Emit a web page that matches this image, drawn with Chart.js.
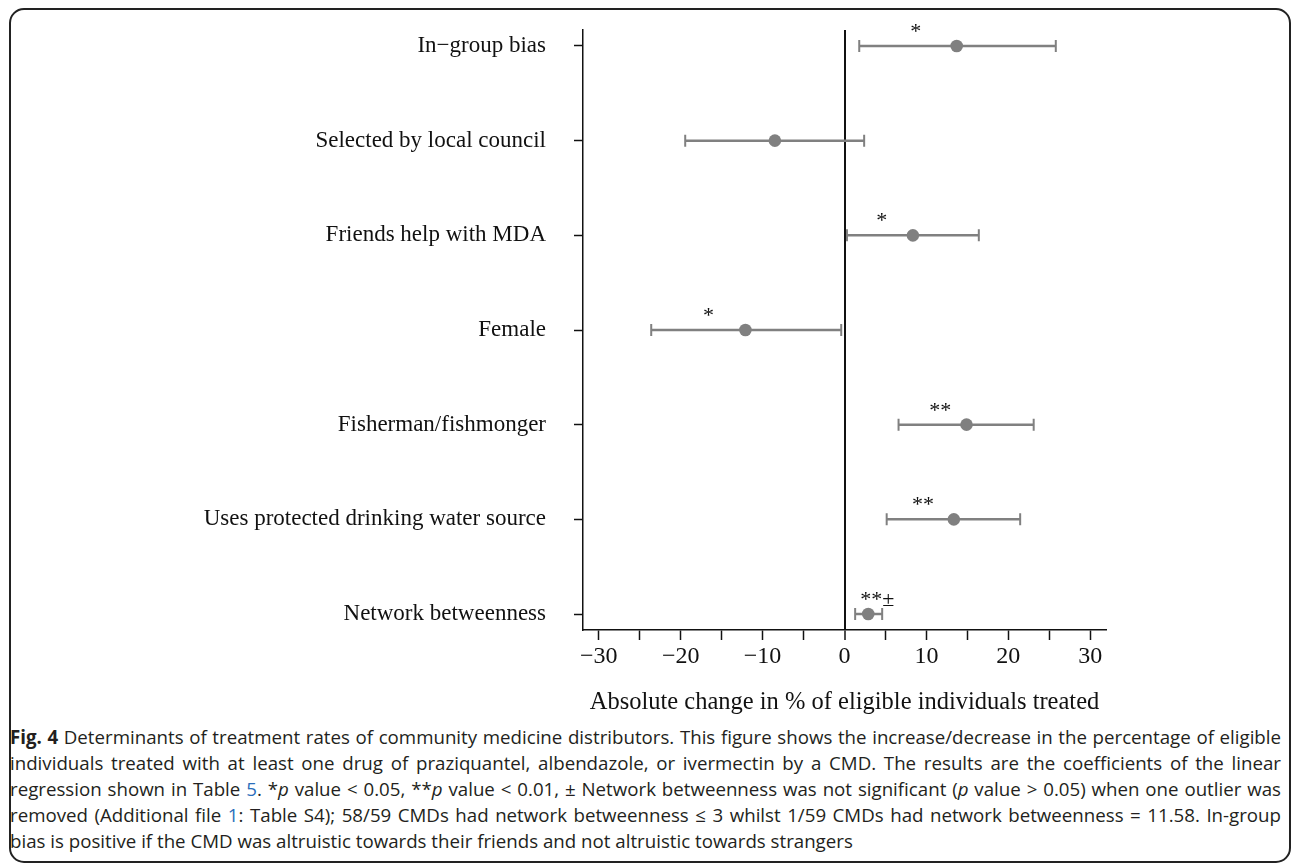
<!DOCTYPE html>
<html>
<head>
<meta charset="utf-8">
<script src="https://cdn.jsdelivr.net/npm/chart.js@4.4.1/dist/chart.umd.min.js"></script>
<style>
  html, body { margin: 0; padding: 0; background: #fff; }
  body { width: 1292px; height: 866px; position: relative; overflow: hidden; }
  #frame { position: absolute; left: 9px; top: 8px; width: 1282px; height: 855px;
           border: 2px solid #222; border-radius: 15px; box-sizing: border-box; }
  #plot { position: absolute; left: 0; top: 0; }
  #caption { position: absolute; left: 10px; top: 724px; width: 1271px;
             font-family: "Open Sans", "Noto Sans", sans-serif; font-size: 18.7px;
             line-height: 26px; color: #231f20; }
  #caption .j { text-align: justify; text-align-last: justify; }
  #caption .lk { color: #2a6ebb; }
</style>
</head>
<body>
<div id="frame"></div>
<canvas id="plot" width="1292" height="722"></canvas>
<div id="caption">
  <div class="j"><b>Fig. 4</b> Determinants of treatment rates of community medicine distributors. This figure shows the increase/decrease in the percentage of eligible</div>
  <div class="j">individuals treated with at least one drug of praziquantel, albendazole, or ivermectin by a CMD. The results are the coefficients of the linear</div>
  <div class="j">regression shown in Table <span class="lk">5</span>. *<i>p</i> value &lt; 0.05, **<i>p</i> value &lt; 0.01, ± Network betweenness was not significant (<i>p</i> value &gt; 0.05) when one outlier was</div>
  <div class="j">removed (Additional file <span class="lk">1</span>: Table S4); 58/59 CMDs had network betweenness ≤ 3 whilst 1/59 CMDs had network betweenness = 11.58. In-group</div>
  <div>bias is positive if the CMD was altruistic towards their friends and not altruistic towards strangers</div>
</div>
<script>
// Regression coefficients (percentage points) with 95% confidence limits
const categories = [
  'In\u2212group bias',
  'Selected by local council',
  'Friends help with MDA',
  'Female',
  'Fisherman/fishmonger',
  'Uses protected drinking water source',
  'Network betweenness'
];
const estimate = [13.7, -8.5, 8.35, -12.1, 14.9, 13.35, 2.9];
const lower    = [1.8, -19.45, 0.3, -23.6, 6.6, 5.15, 1.3];
const upper    = [25.8, 2.4, 16.4, -0.4, 23.1, 21.45, 4.6];

// Significance markers and where along the x axis they sit
const sigLabels = ['*', '', '*', '*', '**', '**', '**\u00b1'];
const sigX      = [8.7, null, 4.55, -16.6, 11.7, 9.6, 4.0];

// Axis ticks
const xTickValues = [-30, -25, -20, -15, -10, -5, 0, 5, 10, 15, 20, 25, 30];
const xLabelStep = 10;
const xTitle = 'Absolute change in % of eligible individuals treated';

const serif = '"Liberation Serif", "Times New Roman", serif';
const inkColor = '#111111';
const markColor = '#808080';

function fmtTick(v) {
  if (v % xLabelStep !== 0) return '';
  return v < 0 ? '\u2212' + Math.abs(v) : String(v);
}

// Horizontal confidence-interval whiskers with end caps
const errorBars = {
  id: 'errorBars',
  beforeDatasetsDraw(chart) {
    const { ctx, scales: { x, y } } = chart;
    ctx.save();
    ctx.strokeStyle = markColor;
    ctx.lineCap = 'butt';
    categories.forEach((_, i) => {
      const py = y.getPixelForValue(i + 1);
      const x0 = x.getPixelForValue(lower[i]);
      const x1 = x.getPixelForValue(upper[i]);
      ctx.lineWidth = 2.5;
      ctx.beginPath();
      ctx.moveTo(x0, py); ctx.lineTo(x1, py);
      ctx.stroke();
      ctx.lineWidth = 2;
      ctx.beginPath();
      ctx.moveTo(x0, py - 6); ctx.lineTo(x0, py + 6);
      ctx.moveTo(x1, py - 6); ctx.lineTo(x1, py + 6);
      ctx.stroke();
    });
    ctx.restore();
  }
};

// Asterisks above the estimates
const sigMarks = {
  id: 'sigMarks',
  afterDatasetsDraw(chart) {
    const { ctx, scales: { x, y } } = chart;
    ctx.save();
    ctx.fillStyle = inkColor;
    ctx.font = '22px ' + serif;
    ctx.textAlign = 'center';
    ctx.textBaseline = 'alphabetic';
    sigLabels.forEach((s, i) => {
      if (!s) return;
      ctx.fillText(s, x.getPixelForValue(sigX[i]), y.getPixelForValue(i + 1) - 8);
    });
    ctx.restore();
  }
};

new Chart(document.getElementById('plot'), {
  type: 'scatter',
  data: {
    datasets: [{
      data: estimate.map((v, i) => ({ x: v, y: i + 1 })),
      pointRadius: 6.3,
      pointHoverRadius: 6.3,
      backgroundColor: markColor,
      borderWidth: 0
    }]
  },
  options: {
    responsive: false,
    devicePixelRatio: 1,
    animation: false,
    events: [],
    layout: { padding: { top: 30, right: 186, left: 0, bottom: 0 } },
    plugins: { legend: { display: false }, tooltip: { enabled: false } },
    scales: {
      x: {
        type: 'linear',
        min: -31.93,
        max: 31.93,
        afterBuildTicks: s => { s.ticks = xTickValues.map(v => ({ value: v })); },
        afterFit: s => { s.height = 92; s.paddingLeft = 0; s.paddingRight = 0; },
        ticks: {
          autoSkip: false,
          maxRotation: 0,
          padding: 2,
          color: inkColor,
          font: { family: serif, size: 24 },
          callback: v => fmtTick(v)
        },
        grid: {
          drawOnChartArea: true,
          color: ctx => (ctx.tick && ctx.tick.value === 0) ? inkColor : 'rgba(0,0,0,0)',
          lineWidth: ctx => (ctx.tick && ctx.tick.value === 0) ? 2 : 1,
          tickColor: inkColor,
          tickWidth: 1.5,
          tickLength: 10
        },
        border: { color: inkColor, width: 1.5 },
        title: {
          display: true,
          text: xTitle,
          color: inkColor,
          font: { family: serif, size: 24.5 },
          padding: { top: 20, bottom: 5 }
        }
      },
      y: {
        type: 'linear',
        reverse: true,
        min: 0.831,
        max: 7.169,
        afterBuildTicks: s => { s.ticks = categories.map((_, i) => ({ value: i + 1 })); },
        afterFit: s => { s.width = 583; s.paddingTop = 0; s.paddingBottom = 0; },
        ticks: {
          padding: 28,
          color: inkColor,
          font: { family: serif, size: 23 },
          callback: (v, i) => categories[i]
        },
        grid: {
          drawOnChartArea: false,
          tickColor: inkColor,
          tickWidth: 1.5,
          tickLength: 9
        },
        border: { color: inkColor, width: 1.5 }
      }
    }
  },
  plugins: [errorBars, sigMarks]
});
</script>
</body>
</html>
